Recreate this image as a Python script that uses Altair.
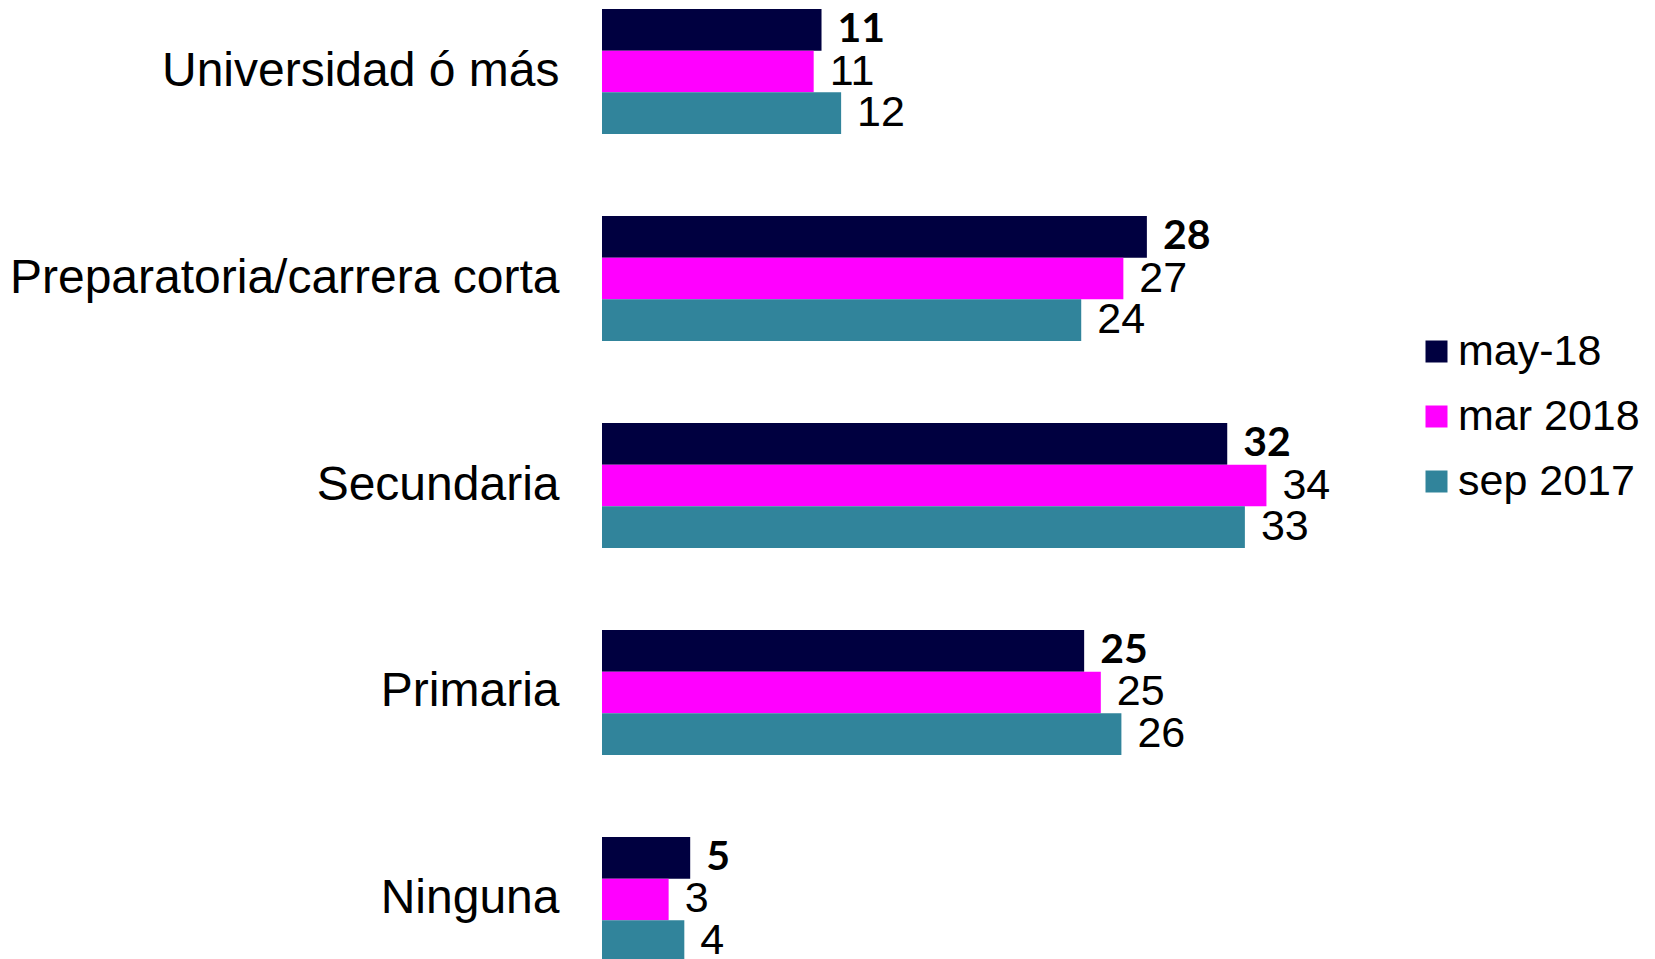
import altair as alt
import pandas as pd

categories = ["Universidad ó más", "Preparatoria/carrera corta", "Secundaria", "Primaria", "Ninguna"]
series = ["may-18", "mar 2018", "sep 2017"]
# bar lengths (unrounded), and the printed labels
may18 = [11.2, 27.8, 31.9, 24.6, 4.5]
mar2018 = [10.8, 26.6, 33.9, 25.45, 3.4]
sep2017 = [12.2, 24.45, 32.8, 26.5, 4.2]
may18_lbl = [11, 28, 32, 25, 5]
mar2018_lbl = [11, 27, 34, 25, 3]
sep2017_lbl = [12, 24, 33, 26, 4]
colors = ["#000040", "#FF00FF", "#31849B"]

rows = []
for s, vals, lbls in zip(series, [may18, mar2018, sep2017], [may18_lbl, mar2018_lbl, sep2017_lbl]):
    for c, v, l in zip(categories, vals, lbls):
        rows.append({"cat": c, "series": s, "value": v, "label": str(l)})
df = pd.DataFrame(rows)

y = alt.Y("cat:N", sort=categories,
          scale=alt.Scale(paddingInner=0.396, paddingOuter=0),
          axis=alt.Axis(title=None, ticks=False, domain=False, labelFont="Liberation Sans",
                        labelFontSize=48, labelColor="black", labelPadding=43, labelLimit=1000))
yoff = alt.YOffset("series:N", sort=series, scale=alt.Scale(paddingInner=0, paddingOuter=0))
x = alt.X("value:Q", scale=alt.Scale(domain=[0, 40]), axis=None)

bars = alt.Chart(df).mark_bar(clip=True).encode(
    y=y, yOffset=yoff, x=x,
    color=alt.Color("series:N", sort=series,
                    scale=alt.Scale(domain=series, range=colors),
                    legend=alt.Legend(title=None, orient="none", legendX=813, legendY=321,
                                      labelFont="Liberation Sans", labelFontSize=43,
                                      labelColor="black", labelLimit=1000,
                                      symbolType="square", symbolSize=484,
                                      symbolStrokeWidth=0, rowPadding=21, labelOffset=0)),
)

bold = alt.Chart(df).transform_filter(alt.datum.series == "may-18").mark_text(
    align="left", baseline="middle", dx=16, font="Lato", fontWeight="bold", fontSize=41,
    color="black"
).encode(y=y, yOffset=yoff, x=x, text="label:N")

regular = alt.Chart(df).transform_filter(alt.datum.series != "may-18").mark_text(
    align="left", baseline="middle", dx=16, font="Liberation Sans", fontSize=43,
    color="black"
).encode(y=y, yOffset=yoff, x=x, text="label:N")

chart = alt.layer(bars, bold, regular).properties(
    width=784, height=953,
    padding={"left": 1, "top": 0, "right": 0, "bottom": 0},
).configure_view(stroke=None)

chart.save("out.html", embed_options={"renderer": "svg", "actions": False})
